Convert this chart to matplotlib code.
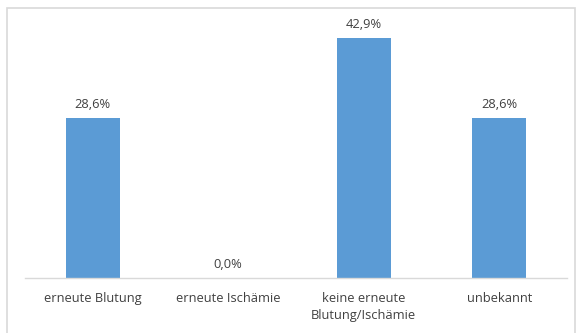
import matplotlib
matplotlib.use("Agg")
import matplotlib.pyplot as plt
from matplotlib.patches import Rectangle

categories = ["erneute Blutung", "erneute Ischämie",
              "keine erneute\nBlutung/Ischämie", "unbekannt"]
values = [28.6, 0.0, 42.9, 28.6]
value_labels = ["28,6%", "0,0%", "42,9%", "28,6%"]

W, H = 579, 333
fig = plt.figure(figsize=(W / 100, H / 100), dpi=100)

# chart area frame
fig.patches.append(Rectangle((7 / W, -0.05), (575 - 7) / W, (H - 8) / H + 0.05,
                             transform=fig.transFigure, fill=False,
                             edgecolor="#d9d9d9", linewidth=1.2))

ax = fig.add_axes([25 / W, (H - 278) / H, (567 - 25) / W, (278 - 20) / H])
x = range(len(categories))
ax.bar(x, values, width=0.4, color="#5b9bd5")
ax.set_xlim(-0.5, 3.5)
ax.set_ylim(0, 46.1)

for xi, v, lab in zip(x, values, value_labels):
    ax.annotate(lab, (xi, v), xytext=(0, 10), textcoords="offset points",
                ha="center", va="center", fontsize=9.3, color="#404040",
                family="Open Sans")

ax.set_xticks(list(x))
ax.set_xticklabels(categories, fontsize=9.3, color="#404040", family="Open Sans",
                   linespacing=1.45)
ax.tick_params(axis="x", length=0, pad=10)
ax.set_yticks([])
for s in ["top", "right", "left"]:
    ax.spines[s].set_visible(False)
ax.spines["bottom"].set_color("#d9d9d9")
ax.spines["bottom"].set_linewidth(1)

fig.savefig("out.png", dpi=100)
